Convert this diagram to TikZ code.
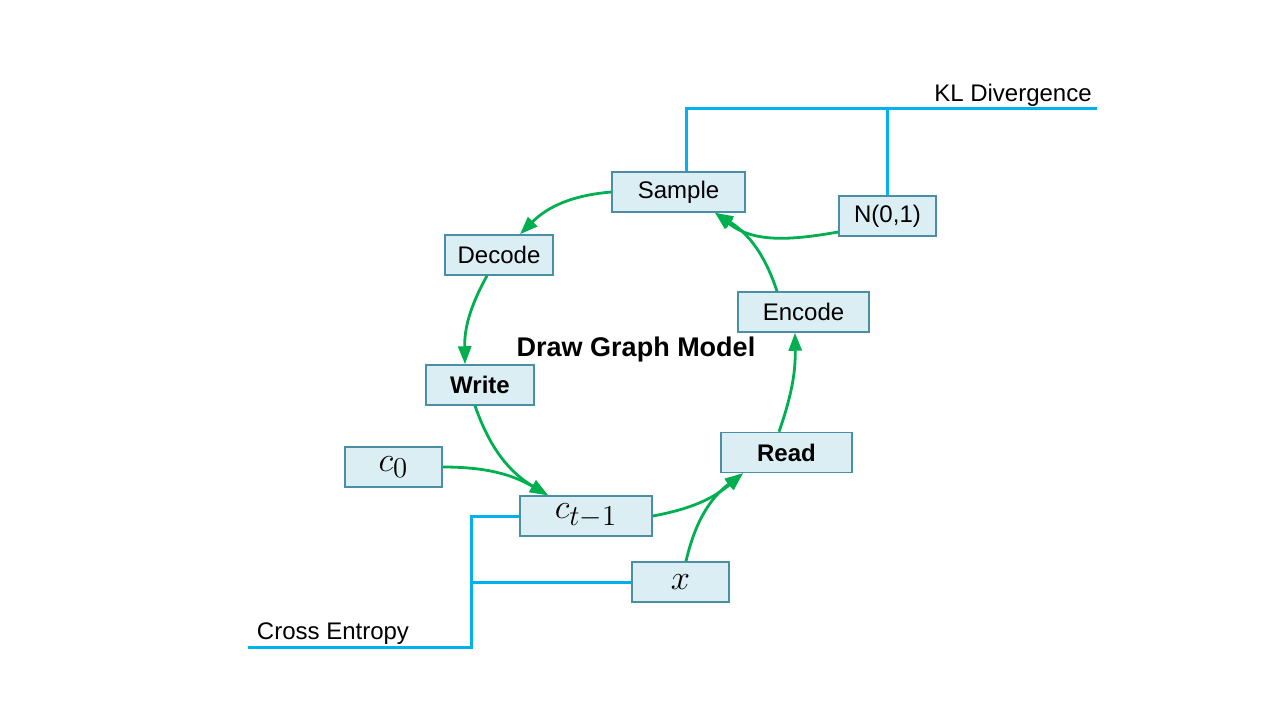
\documentclass[tikz,border=0pt]{standalone}
\usepackage{fontspec}
\setmainfont{Liberation Sans}
\usepackage{tikz}
\usetikzlibrary{arrows.meta}

\definecolor{boxfill}{HTML}{DAEEF3}
\definecolor{boxline}{HTML}{4A8FA3}
\definecolor{flow}{HTML}{00B050}
\definecolor{loss}{HTML}{00B0F0}

\begin{document}
\begin{tikzpicture}[x=0.5pt,y=0.5pt,>={Triangle[length=9pt,width=6.5pt]},
		box/.style={draw=boxline,line width=0.75pt,fill=boxfill,inner sep=0pt,
			minimum height=20pt,font=\fontsize{12}{14}\selectfont},
		mbox/.style={box,font=\fontsize{19}{22}\selectfont},
		link/.style={->,draw=flow,line width=1.4pt},
		cost/.style={draw=loss,line width=1.5pt}]
		\useasboundingbox (0,0) rectangle (1280,720);
		\node[box,minimum width=66.5pt] (s) at (678.5,528) {Sample};
		\node[box,minimum width=48.5pt] (n) at (887.5,504) {N(0,1)};
		\node[box,minimum width=54pt]   (d) at (499,465)   {Decode};
		\node[box,minimum width=65.5pt] (e) at (803.5,408) {Encode};
		\node[box,minimum width=54pt,font=\fontsize{12}{14}\selectfont\bfseries]   (w) at (480,335) {Write};
		\node[box,minimum width=65.5pt,font=\fontsize{12}{14}\selectfont\bfseries] (r) at (786.5,267.5) {Read};
		\node[mbox,minimum width=48.5pt] (c0) at (393.5,253) {$c_0$};
		\node[mbox,minimum width=66pt]   (c)  at (586,204)   {$c_{t-1}$};
		\node[mbox,minimum width=48.5pt] (x)  at (680.5,138) {$x$};
		\node[font=\fontsize{13.5}{16}\selectfont\bfseries] (t) at (636,370) {Draw Graph Model};

		\path[every edge/.style=link]
			(s.west) edge [bend right=20] ([xshift=10.5pt]d.north)
			([xshift=-6pt]d.south) edge [bend right=15] ([xshift=-7.5pt]w.north)
			([xshift=-2.5pt]w.south) edge [bend right=20] ([xshift=-19pt]c.north)
			(c0.east) edge [bend left=15] ([xshift=-19pt]c.north)
			(c.east) edge [bend right=15] ([xshift=-21.75pt]r.south)
			([xshift=2.75pt]x.north) edge [bend left=20] ([xshift=-21.75pt]r.south)
			([xshift=-3.75pt]r.north) edge [bend right=10] ([xshift=-4.25pt]e.south)
			([xshift=-13.25pt]e.north) edge [bend right=20] ([xshift=18.25pt]s.south)
			([yshift=-8pt]n.west) edge [out=190,in=-38] ([xshift=18.25pt]s.south);

		% KL term
		\coordinate (kl) at (1097,612);
		\draw[cost] ([xshift=3.75pt]s.north) |- (kl);
		\draw[cost] (n.north) -- (n.north |- kl);
		\node[font=\fontsize{12}{14}\selectfont] (klt) at (1013,625) {KL Divergence};

		% reconstruction term
		\coordinate (ce) at (471,73);
		\coordinate (ceend) at (248,73);
		\draw[cost] (c.west) -| (ce) -- (ceend);
		\draw[cost] (x.west) -- (x.west -| ce);
		\node[font=\fontsize{12}{14}\selectfont] (cet) at (333,86) {Cross Entropy};
	\end{tikzpicture}
\end{document}
